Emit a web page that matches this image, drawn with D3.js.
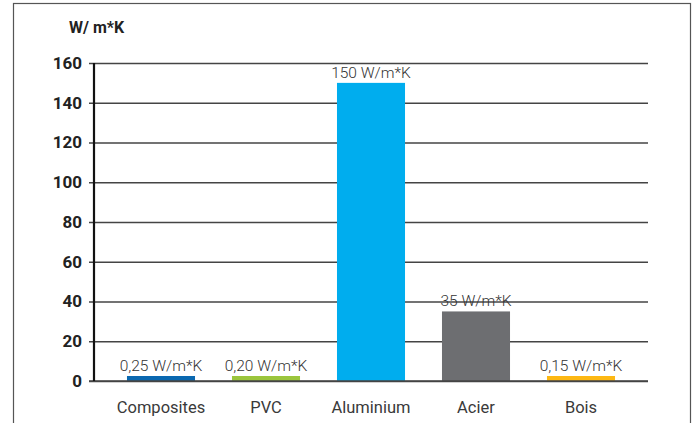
<!DOCTYPE html>
<html>
<head>
<meta charset="utf-8">
<script src="https://cdn.jsdelivr.net/npm/d3@7"></script>
<style>
  html, body { margin: 0; padding: 0; background: #fff; }
  svg { display: block; }
</style>
</head>
<body>
<svg id="chart" width="696" height="423"></svg>
<script>
// Thermal conductivity of window frame materials
const categories = ["Composites", "PVC", "Aluminium", "Acier", "Bois"];
const values = [0.25, 0.20, 150, 35, 0.15];
const valueLabels = ["0,25 W/m*K", "0,20 W/m*K", "150 W/m*K", "35 W/m*K", "0,15 W/m*K"];
const colors = ["#0a68b0", "#9bc53d", "#00adee", "#6d6e71", "#fdb813"];
const yTicks = [0, 20, 40, 60, 80, 100, 120, 140, 160];
const unitLabel = "W/ m*K";

const svg = d3.select("#chart");
const font = "Roboto, 'Liberation Sans', Arial, sans-serif";

// outer frame
svg.append("rect")
  .attr("x", 13.5).attr("y", 3.5)
  .attr("width", 677).attr("height", 440)
  .attr("fill", "none").attr("stroke", "#555").attr("stroke-width", 1.2);

const y = d3.scaleLinear().domain([0, 160]).range([381, 63]);
const x = d3.scaleBand().domain(categories)
  .range([108.5, 633.5]).paddingInner(0.352).paddingOuter(0.176);

// gridlines with left tick marks
const yAxis = d3.axisLeft(y).tickValues(yTicks)
  .tickSize(-(648 - 89)).tickFormat(d => d).tickPadding(8);
const gAxis = svg.append("g").attr("transform", "translate(89,0)").call(yAxis);
gAxis.select(".domain").remove();
gAxis.selectAll(".tick line").attr("stroke", "#444").attr("stroke-width", 1.6);
gAxis.selectAll(".tick text")
  .attr("font-family", font).attr("font-weight", "bold")
  .attr("font-size", 17).attr("fill", "#222").attr("x", -7);

// bars (kept at least a few pixels tall so tiny values stay visible)
const minH = 5;
svg.append("g").selectAll("rect").data(values).join("rect")
  .attr("x", (d, i) => x(categories[i]))
  .attr("width", x.bandwidth())
  .attr("y", d => y(0) - Math.max(y(0) - y(d), minH))
  .attr("height", d => Math.max(y(0) - y(d), minH))
  .attr("fill", (d, i) => colors[i]);

// value labels
svg.append("g").selectAll("text").data(values).join("text")
  .attr("x", (d, i) => x(categories[i]) + x.bandwidth() / 2)
  .attr("y", d => y(0) - Math.max(y(0) - y(d), minH) - 5)
  .attr("text-anchor", "middle")
  .attr("font-family", font).attr("font-weight", 300)
  .attr("font-size", 15.5).attr("fill", "#333")
  .text((d, i) => valueLabels[i]);

// baseline drawn over bars
svg.append("line")
  .attr("x1", 89).attr("x2", 648).attr("y1", y(0)).attr("y2", y(0))
  .attr("stroke", "#444").attr("stroke-width", 1.6);

// vertical axis line
svg.append("line")
  .attr("x1", 94).attr("x2", 94).attr("y1", y(160)).attr("y2", y(0))
  .attr("stroke", "#111").attr("stroke-width", 2.2);

// category labels
svg.append("g").selectAll("text").data(categories).join("text")
  .attr("x", d => x(d) + x.bandwidth() / 2)
  .attr("y", 413)
  .attr("text-anchor", "middle")
  .attr("font-family", font).attr("font-weight", 400)
  .attr("font-size", 16.5).attr("fill", "#3a3a3a")
  .text(d => d);

// unit label
svg.append("text")
  .attr("x", 69).attr("y", 33)
  .attr("font-family", font).attr("font-weight", "bold")
  .attr("font-size", 16).attr("fill", "#222")
  .text(unitLabel);
</script>
</body>
</html>
